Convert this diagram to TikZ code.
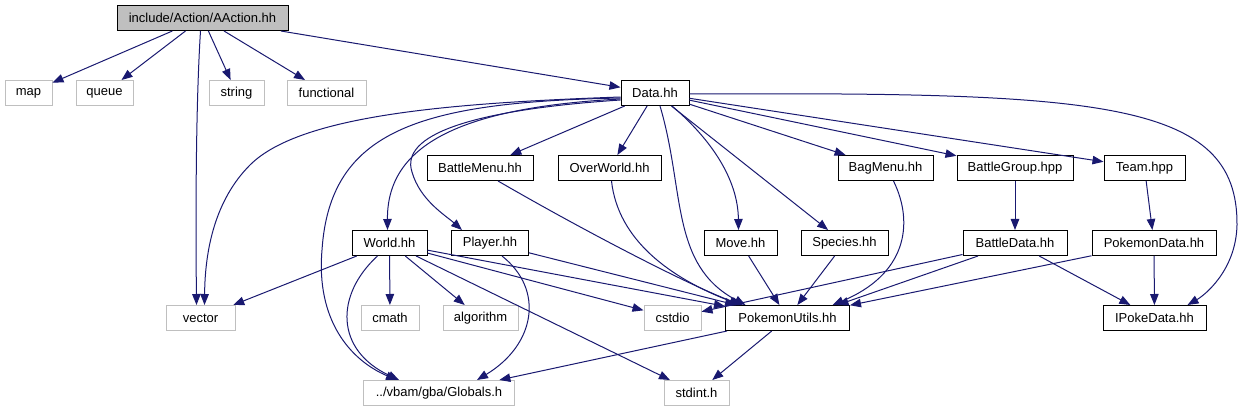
\documentclass[tikz,border=0pt]{standalone}
\usepackage{fontspec}
\setmainfont{Liberation Sans}
\usetikzlibrary{arrows.meta,calc}
\definecolor{edgeblue}{HTML}{191970}
\definecolor{extgray}{HTML}{BFBFBF}
\begin{document}
\begin{tikzpicture}[x=1pt,y=-1pt,
  box/.style={draw=black,fill=white,line width=1pt,minimum height=25,inner sep=0,font=\fontsize{13}{15}\selectfont},
  rootbox/.style={box,fill=extgray},
  extbox/.style={box,draw=extgray},
  dep/.style={draw=edgeblue,line width=1pt,-{Triangle[length=11pt,width=8.5pt]}}]
\useasboundingbox (0,0) rectangle (1242,411);
% row 1
\node[rootbox,minimum width=171] (root) at (202.5,18) {include/Action/AAction.hh};
% row 2
\node[extbox,minimum width=47] (map) at (28.5,93) {map};
\node[extbox,minimum width=57] (queue) at (104.5,93) {queue};
\node[extbox,minimum width=55] (string) at (236.5,93) {string};
\node[extbox,minimum width=79] (functional) at (326.5,93) {functional};
\node[box,minimum width=68] (data) at (655,93) {Data.hh};
% row 3
\node[box,minimum width=106] (battlemenu) at (480,168) {BattleMenu.hh};
\node[box,minimum width=103] (overworld) at (609.5,168) {OverWorld.hh};
\node[box,minimum width=95] (bagmenu) at (885.5,168) {BagMenu.hh};
\node[box,minimum width=116] (battlegroup) at (1015,168) {BattleGroup.hpp};
\node[box,minimum width=81] (team) at (1144.5,168) {Team.hpp};
% row 4
\node[box,minimum width=75] (world) at (389.5,243) {World.hh};
\node[box,minimum width=77] (player) at (490,243) {Player.hh};
\node[box,minimum width=73] (move) at (740.5,243) {Move.hh};
\node[box,minimum width=87] (species) at (844.5,243) {Species.hh};
\node[box,minimum width=104] (battledata) at (1015,243) {BattleData.hh};
\node[box,minimum width=124] (pokemondata) at (1154,243) {PokemonData.hh};
% row 5
\node[extbox,minimum width=69] (vector) at (200.5,318) {vector};
\node[extbox,minimum width=58] (cmath) at (390,318) {cmath};
\node[extbox,minimum width=75] (algorithm) at (480.5,318) {algorithm};
\node[extbox,minimum width=57] (cstdio) at (672.5,318) {cstdio};
\node[box,minimum width=124] (pokemonutils) at (787.5,318) {PokemonUtils.hh};
\node[box,minimum width=103] (ipokedata) at (1154.5,318) {IPokeData.hh};
% row 6
\node[extbox,minimum width=151] (globals) at (439,393) {../vbam/gba/Globals.h};
\node[extbox,minimum width=65] (stdint) at (696.5,393) {stdint.h};

% root edges
\draw[dep] (root) -- (map);
\draw[dep] (root) -- (queue);
\draw[dep] (root) -- (string);
\draw[dep] (root) -- (functional);
\draw[dep] (root) -- (data);
\draw[dep] ($(root.south)+(-2,0)$) .. controls (198,70) and (195,150) .. ($(vector.north)+(-4,0)$);

% data edges
\draw[dep] ($(data.west)+(0,4)$) .. controls (450,103) and (300,115) .. (250,165) .. controls (215,200) and (205,250) .. ($(vector.north)+(4,0)$);
\draw[dep] ($(data.west)+(0,5)$) .. controls (420,102) and (330,130) .. (322,250) .. controls (316,320) and (350,360) .. ($(globals.north)+(-42,0)$);
\draw[dep] ($(data.west)+(0,6)$) .. controls (450,108) and (387,150) .. ($(world.north)+(-2,0)$);
\draw[dep] ($(data.west)+(0,7)$) .. controls (470,110) and (400,135) .. (412,172) .. controls (420,200) and (445,215) .. ($(player.north)+(-28,0)$);
\draw[dep] (data) -- (battlemenu);
\draw[dep] (data) -- (overworld);
\draw[dep] ($(data.south)+(17,0)$) .. controls (712,140) and (738,180) .. ($(move.north)+(-2,0)$);
\draw[dep] (data) -- (species);
\draw[dep] ($(data.south)+(5,0)$) .. controls (685,190) and (670,265) .. ($(pokemonutils.north)+(-42,0)$);
\draw[dep] (data) -- (bagmenu);
\draw[dep] (data) -- (battlegroup);
\draw[dep] (data) -- (team);
\draw[dep] ($(data.east)+(0,1)$) .. controls (1100,92) and (1238,100) .. (1237,225) .. controls (1236,270) and (1205,295) .. ($(ipokedata.north)+(33,0)$);

% row 3 edges
\draw[dep] ($(battlemenu.south)+(18,0)$) .. controls (600,240) and (700,290) .. ($(pokemonutils.north)+(-45,0)$);
\draw[dep] ($(overworld.south)+(2,0)$) .. controls (618,240) and (670,278) .. ($(pokemonutils.north)+(-47,0)$);
\draw[dep] ($(bagmenu.south)+(8,0)$) .. controls (915,225) and (905,275) .. ($(pokemonutils.north)+(45,0)$);
\draw[dep] (battlegroup) -- (battledata);
\draw[dep] (team) -- (pokemondata);

% row 4 edges
\draw[dep] (world) -- (vector);
\draw[dep] (world) -- (cmath);
\draw[dep] (world) -- (algorithm);
\draw[dep] ($(world.south)+(-12,0)$) .. controls (335,295) and (335,350) .. ($(globals.north)+(-40,0)$);
\draw[dep] (world) -- (cstdio);
\draw[dep] (world) -- (pokemonutils);
\draw[dep] (world) -- (stdint);
\draw[dep] ($(player.south)+(12,0)$) .. controls (545,290) and (535,345) .. ($(globals.north)+(38,0)$);
\draw[dep] (player) -- (pokemonutils);
\draw[dep] (move) -- (pokemonutils);
\draw[dep] (species) -- (pokemonutils);
\draw[dep] (battledata) -- (cstdio);
\draw[dep] ($(battledata.south)+(-37,0)$) -- ($(pokemonutils.north)+(50,0)$);
\draw[dep] (battledata) -- (ipokedata);
\draw[dep] (pokemondata) -- (pokemonutils);
\draw[dep] (pokemondata) -- (ipokedata);

% row 5 edges
\draw[dep] (pokemonutils) -- (globals);
\draw[dep] (pokemonutils) -- (stdint);
\end{tikzpicture}
\end{document}
